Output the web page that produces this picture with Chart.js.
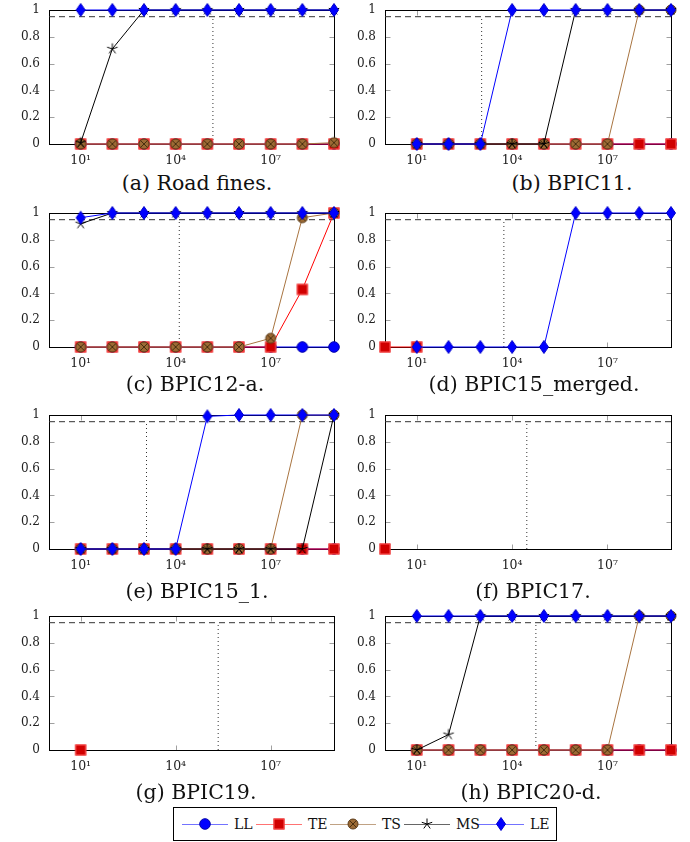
<!DOCTYPE html>
<html>
<head>
<meta charset="utf-8">
<script src="https://cdn.jsdelivr.net/npm/chart.js@4.4.0/dist/chart.umd.min.js"></script>
<style>
  body { margin: 0; background: #fff; }
  #page { position: relative; width: 690px; height: 842px; overflow: hidden; }
  canvas.plot { position: absolute; }
  .cap { position: absolute; font-family: 'DejaVu Serif', serif; font-size: 20.5px; line-height: 20px;
         white-space: nowrap; transform: translateX(-50%); color: #111; }
  #legend { position: absolute; left: 173px; top: 807px; width: 384px; height: 34px; box-sizing: border-box;
            border: 1px solid #000; display: flex; align-items: center; padding-left: 8px; }
  .item { width: 74px; display: flex; align-items: center; }
  .item span { font-family: 'DejaVu Serif', serif; font-size: 14px; margin-left: 6px; color: #111; }
</style>
</head>
<body>
<div id="page"><div id="legend"></div></div>
<script>
// x positions of the runs (one per decade) and axis labels
const xValues = [1, 10, 100, 1e3, 1e4, 1e5, 1e6, 1e7, 1e8, 1e9];
const xTickValues = [10, 1e4, 1e7];
const xTickLabels = ['10\u00b9', '10\u2074', '10\u2077'];
const yTickValues = [0, 0.2, 0.4, 0.6, 0.8, 1];
const yTickLabels = ['0', '0.2', '0.4', '0.6', '0.8', '1'];
const targetLevel = 0.95;

const seriesNames = ['LL', 'TE', 'TS', 'MS', 'LE'];
const captions = ['(a) Road fines.', '(b) BPIC11.', '(c) BPIC12-a.', '(d) BPIC15_merged.',
                  '(e) BPIC15_1.', '(f) BPIC17.', '(g) BPIC19.', '(h) BPIC20-d.'];
// vertical dotted marker per log
const thresholds = [1.5e5, 1.1e3, 1.3e4, 5.5e3, 1.2e3, 2.9e4, 2.2e5, 5.6e4];

// (a) Road fines
const roadLL = [null, 0, 0, 0, 0, 0, 0, 0, 0, 0];
const roadTE = [null, 0, 0, 0, 0, 0, 0, 0, 0, 0];
const roadTS = [null, 0, 0, 0, 0, 0, 0, 0, 0, 0.01];
const roadMS = [null, 0.01, 0.71, 1, 1, 1, 1, 1, 1, 1];
const roadLE = [null, 1, 1, 1, 1, 1, 1, 1, 1, 1];
// (b) BPIC11
const b11LL = [null, 0, 0, 0, 0, 0, 0, 0, 0, 0];
const b11TE = [null, 0, 0, 0, 0, 0, 0, 0, 0, 0];
const b11TS = [null, 0, 0, 0, 0, 0, 0, 0, 1, 1];
const b11MS = [null, 0, 0, 0, 0, 0, 1, 1, 1, 1];
const b11LE = [null, 0, 0, 0, 1, 1, 1, 1, 1, 1];
// (c) BPIC12-a
const b12LL = [null, 0, 0, 0, 0, 0, 0, 0, 0, 0];
const b12TE = [null, 0, 0, 0, 0, 0, 0, 0, 0.43, 1];
const b12TS = [null, 0, 0, 0, 0, 0, 0, 0.065, 0.965, 1];
const b12MS = [null, 0.92, 1, 1, 1, 1, 1, 1, 1, 1];
const b12LE = [null, 0.965, 1, 1, 1, 1, 1, 1, 1, 1];
// (d) BPIC15_merged
const b15mTE = [0, 0, null, null, null, null, null, null, null, null];
const b15mLE = [null, 0, 0, 0, 0, 0, 1, 1, 1, 1];
// (e) BPIC15_1
const b151LL = [null, 0, 0, 0, 0, 0, 0, 0, 0, 0];
const b151TE = [null, 0, 0, 0, 0, 0, 0, 0, 0, 0];
const b151TS = [null, 0, 0, 0, 0, 0, 0, 0, 1, 1];
const b151MS = [null, 0, 0, 0, 0, 0, 0, 0, 0, 1];
const b151LE = [null, 0, 0, 0, 0, 0.99, 1, 1, 1, 1];
// (f) BPIC17
const b17TE = [0, null, null, null, null, null, null, null, null, null];
// (g) BPIC19
const b19TE = [null, 0, null, null, null, null, null, null, null, null];
// (h) BPIC20-d
const b20LL = [null, 0, 0, 0, 0, 0, 0, 0, 0, 0];
const b20TE = [null, 0, 0, 0, 0, 0, 0, 0, 0, 0];
const b20TS = [null, 0, 0, 0, 0, 0, 0, 0, 1, 1];
const b20MS = [null, 0, 0.115, 1, 1, 1, 1, 1, 1, 1];
const b20LE = [null, 1, 1, 1, 1, 1, 1, 1, 1, 1];

const plots = [
  [roadLL, roadTE, roadTS, roadMS, roadLE],
  [b11LL, b11TE, b11TS, b11MS, b11LE],
  [b12LL, b12TE, b12TS, b12MS, b12LE],
  [null, b15mTE, null, null, b15mLE],
  [b151LL, b151TE, b151TS, b151MS, b151LE],
  [null, b17TE, null, null, null],
  [null, b19TE, null, null, null],
  [b20LL, b20TE, b20TS, b20MS, b20LE]
];

const lineColors = ['#0000ff', '#ff0000', '#a87440', '#000000', '#0000ff'];
const legendColors = ['rgba(0,0,255,0.55)', 'rgba(255,0,0,0.55)', 'rgba(150,100,50,0.6)', 'rgba(0,0,0,0.6)', 'rgba(0,0,255,0.55)'];

// marker images
function makeMarker(kind) {
  const c = document.createElement('canvas');
  c.width = 16; c.height = 16;
  const g = c.getContext('2d');
  g.translate(8, 8);
  g.lineWidth = 1;
  if (kind === 'LL') {
    g.beginPath(); g.arc(0, 0, 5.3, 0, Math.PI * 2);
    g.fillStyle = '#0000ff'; g.fill(); g.strokeStyle = '#0000aa'; g.stroke();
  } else if (kind === 'TE') {
    g.fillStyle = '#d00000'; g.fillRect(-5.5, -5.5, 11, 11);
    g.strokeStyle = '#ff5555'; g.strokeRect(-5, -5, 10, 10);
  } else if (kind === 'TS') {
    g.beginPath(); g.arc(0, 0, 5, 0, Math.PI * 2);
    g.fillStyle = '#9c6a34'; g.fill(); g.strokeStyle = '#5a3a18'; g.stroke();
    g.beginPath(); g.moveTo(-3.5, -3.5); g.lineTo(3.5, 3.5); g.moveTo(3.5, -3.5); g.lineTo(-3.5, 3.5);
    g.strokeStyle = '#4a3010'; g.stroke();
  } else if (kind === 'MS') {
    g.beginPath();
    for (let k = 0; k < 5; k++) {
      const a = -Math.PI / 2 + k * 2 * Math.PI / 5;
      g.moveTo(0, 0); g.lineTo(5.5 * Math.cos(a), 5.5 * Math.sin(a));
    }
    g.strokeStyle = '#000'; g.stroke();
  } else {
    g.beginPath(); g.moveTo(0, -6.5); g.lineTo(4.5, 0); g.lineTo(0, 6.5); g.lineTo(-4.5, 0); g.closePath();
    g.fillStyle = '#0000ff'; g.fill(); g.strokeStyle = '#0000cc'; g.stroke();
  }
  return c;
}
const markers = seriesNames.map(makeMarker);

// box and inward ticks like pgfplots
const framePlugin = {
  id: 'frame',
  beforeDatasetsDraw(chart) {
    const { ctx, chartArea: a, scales: { x, y } } = chart;
    const L = Math.round(a.left) + 0.5, R = Math.round(a.right) + 0.5;
    const T = Math.round(a.top) + 0.5, B = Math.round(a.bottom) + 0.5;
    ctx.save();
    ctx.lineWidth = 1;
    ctx.strokeStyle = '#a0a0a0';
    ctx.beginPath();
    yTickValues.forEach(v => {
      const py = Math.round(y.getPixelForValue(v)) + 0.5;
      ctx.moveTo(L, py); ctx.lineTo(L + 5, py);
      ctx.moveTo(R, py); ctx.lineTo(R - 5, py);
    });
    xTickValues.forEach(v => {
      const px = Math.round(x.getPixelForValue(v)) + 0.5;
      ctx.moveTo(px, B); ctx.lineTo(px, B - 5);
      ctx.moveTo(px, T); ctx.lineTo(px, T + 5);
    });
    ctx.stroke();
    ctx.strokeStyle = '#000';
    ctx.strokeRect(L, T, R - L, B - T);
    ctx.restore();
  }
};

const page = document.getElementById('page');
const rowTops = [0, 203, 405, 606];
const capCenters = [[197, 183], [572, 183], [195, 384], [534, 384], [197, 591], [533, 591], [196, 792], [531, 792]];

plots.forEach((series, idx) => {
  const col = idx % 2, row = Math.floor(idx / 2);
  const canvas = document.createElement('canvas');
  canvas.className = 'plot';
  canvas.width = 345; canvas.height = 170;
  canvas.style.left = (col * 345) + 'px';
  canvas.style.top = rowTops[row] + 'px';
  page.appendChild(canvas);

  const datasets = [
    { data: [{ x: xValues[0], y: targetLevel }, { x: xValues[xValues.length - 1], y: targetLevel }],
      borderColor: '#333', borderDash: [6, 4], borderWidth: 1, pointRadius: 0, order: 30 },
    { data: [{ x: thresholds[idx], y: 0 }, { x: thresholds[idx], y: targetLevel }],
      borderColor: '#333', borderDash: [1, 3], borderWidth: 1, pointRadius: 0, order: 31 }
  ];
  series.forEach((vals, s) => {
    if (!vals) return;
    datasets.push({
      label: seriesNames[s],
      data: xValues.map((x, i) => ({ x: x, y: vals[i] })),
      borderColor: lineColors[s], borderWidth: 1,
      pointStyle: markers[s], pointRadius: 5,
      order: 5 - s, clip: false, spanGaps: false
    });
  });

  new Chart(canvas.getContext('2d'), {
    type: 'line',
    data: { datasets },
    plugins: [framePlugin],
    options: {
      responsive: false, animation: false, events: [],
      layout: { padding: { left: col ? 0 : 9, right: col ? 19 : 11, top: 10, bottom: 0 } },
      plugins: { legend: { display: false }, tooltip: { enabled: false } },
      scales: {
        x: {
          type: 'logarithmic', min: 1, max: 1e9,
          grid: { display: false, drawTicks: true, tickLength: 9 }, border: { display: false },
          afterBuildTicks: s => { s.ticks = xTickValues.map(v => ({ value: v })); },
          afterFit: s => { s.height = 26; },
          ticks: { padding: 0, color: '#222', maxRotation: 0, autoSkip: false,
                   font: { family: 'DejaVu Serif', size: 12.5 },
                   callback: (v, i) => xTickLabels[i] }
        },
        y: {
          min: 0, max: 1,
          grid: { display: false, drawTicks: true, tickLength: 9 }, border: { display: false },
          afterBuildTicks: s => { s.ticks = yTickValues.map(v => ({ value: v })); },
          afterFit: s => { s.width = 40; },
          ticks: { padding: 0, color: '#222', font: { family: 'DejaVu Serif', size: 12 },
                   callback: (v, i) => yTickLabels[i] }
        }
      }
    }
  });

  const cap = document.createElement('div');
  cap.className = 'cap';
  cap.textContent = captions[idx];
  cap.style.left = capCenters[idx][0] + 'px';
  cap.style.top = (capCenters[idx][1] - 10) + 'px';
  page.appendChild(cap);
});

// shared legend
const legend = document.getElementById('legend');
seriesNames.forEach((name, s) => {
  const item = document.createElement('div');
  item.className = 'item';
  const c = document.createElement('canvas');
  c.width = 46; c.height = 16;
  const g = c.getContext('2d');
  g.strokeStyle = legendColors[s]; g.lineWidth = 1.2;
  g.beginPath(); g.moveTo(0, 8.5); g.lineTo(46, 8.5); g.stroke();
  g.drawImage(markers[s], 15, 0);
  const label = document.createElement('span');
  label.textContent = name;
  item.appendChild(c); item.appendChild(label);
  legend.appendChild(item);
});
</script>
</body>
</html>
